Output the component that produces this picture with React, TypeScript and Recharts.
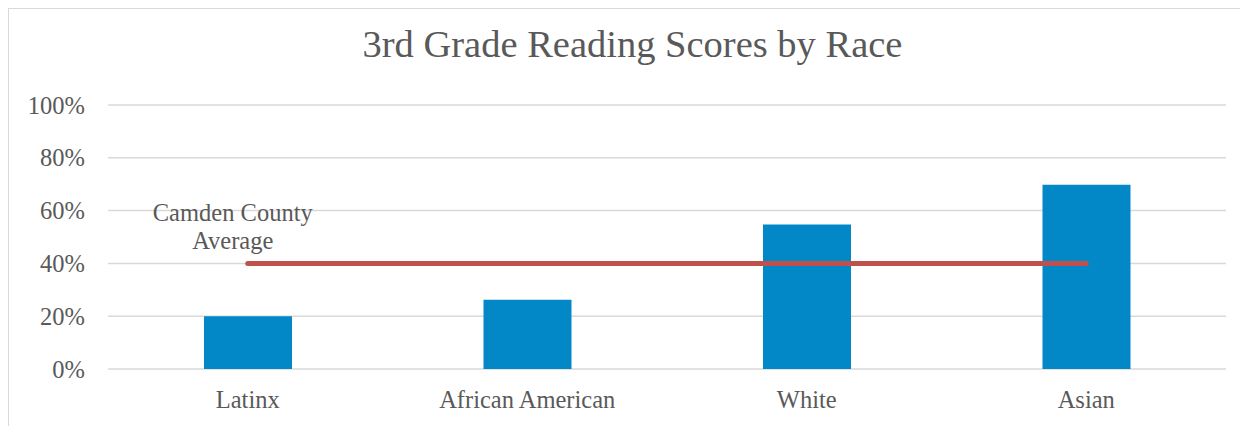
import React from "react";
import { ComposedChart, Bar, Line, XAxis, YAxis, CartesianGrid, LabelList } from "recharts";

const categories = ["Latinx", "African American", "White", "Asian"];
const scores = [20, 26.2, 54.7, 69.8];
const countyAverage = [40, 40, 40, 40];
const yTicks = [0, 20, 40, 60, 80, 100];
const title = "3rd Grade Reading Scores by Race";
const avgLabel = ["Camden County", "Average"];

const data = categories.map((c, i) => ({ name: c, score: scores[i], avg: countyAverage[i] }));

const FONT = "'Liberation Serif', serif";
const TEXT = "#595959";

const AvgLabel = (props: any) => {
  const { x, y, index } = props;
  if (index !== 0) return null;
  return (
    <text x={x - 15} y={y - 42} textAnchor="middle" fill={TEXT} fontFamily={FONT} fontSize={24.5}>
      <tspan x={x - 15} dy="0">{avgLabel[0]}</tspan>
      <tspan x={x - 15} dy="28">{avgLabel[1]}</tspan>
    </text>
  );
};

export default function App() {
  return (
    <div style={{ position: "relative", width: 1240, height: 418, fontFamily: FONT }}>
      <div
        style={{
          position: "absolute",
          left: -1,
          top: -1,
          width: 1241,
          height: 419,
          borderTop: "2px solid #d9d9d9",
          borderLeft: "2px solid #d9d9d9",
          boxSizing: "border-box",
        }}
      />
      <svg width={1240} height={80} style={{ position: "absolute", left: 0, top: 0 }}>
        <text x={624.5} y={49} textAnchor="middle" fill={TEXT} fontFamily={FONT} fontSize={38.5}>
          {title}
        </text>
      </svg>
      <div style={{ position: "absolute", left: 0, top: 0 }}>
        <ComposedChart
          width={1240}
          height={418}
          data={data}
          margin={{ top: 97, right: 22, bottom: 27, left: 20 }}
        >
          <CartesianGrid vertical={false} stroke="#d9d9d9" strokeWidth={1.5} />
          <XAxis
            dataKey="name"
            axisLine={false}
            tickLine={false}
            tickSize={0}
            tickMargin={22}
            height={30}
            tick={{ fill: TEXT, fontSize: 24.5, fontFamily: FONT }}
            interval={0}
          />
          <YAxis
            domain={[0, 100]}
            ticks={yTicks}
            width={80}
            axisLine={false}
            tickLine={false}
            tickSize={0}
            tickMargin={23}
            tickFormatter={(v: number) => `${v}%`}
            tick={{ fill: TEXT, fontSize: 24.5, fontFamily: FONT }}
          />
          <Bar dataKey="score" fill="#0288c7" barSize={88} isAnimationActive={false} />
          <Line
            dataKey="avg"
            stroke="#c0504d"
            strokeWidth={5}
            strokeLinecap="round"
            dot={false}
            activeDot={false}
            isAnimationActive={false}
          >
            <LabelList dataKey="avg" content={AvgLabel} />
          </Line>
        </ComposedChart>
      </div>
    </div>
  );
}
